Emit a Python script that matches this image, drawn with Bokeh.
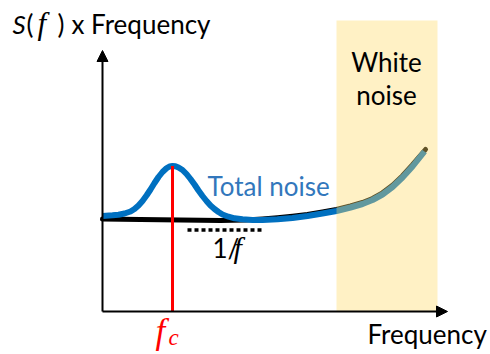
from bokeh.plotting import figure
from bokeh.models import Range1d, Label, Arrow, NormalHead, BoxAnnotation
from bokeh.embed import file_html
from bokeh.resources import INLINE

# Schematic noise spectrum, arbitrary units (origin at the axes corner)
total_x = [0, 10, 16, 22, 28, 32, 36, 40, 44, 48, 52, 56, 60, 64, 67, 70, 73, 76, 80, 84,
           88, 92, 96, 100, 104, 108, 112, 116, 120, 126, 132, 140, 150, 160, 175, 190,
           205, 220, 234, 248, 260, 270, 280, 290, 300, 310, 322]
total_y = [95.5, 96.2, 96.8, 98, 100, 102.5, 106, 110.5, 116, 122, 128.5, 134.5, 139.5,
           143.2, 145, 145.5, 145.2, 144, 141.5, 137.5, 132.5, 127, 121, 115.5, 110.5,
           106, 102.5, 99.5, 97, 94.8, 93.2, 92.2, 91.6, 91.5, 92.2, 93.6, 95.5, 98,
           100.5, 104, 107.5, 111.5, 117, 124.5, 134, 145, 160]

flicker_x = [0, 38, 78, 118, 143, 160, 175, 190, 205, 220, 234, 248, 260, 270, 280, 290,
             300, 310, 323]
flicker_y = [92.5, 92, 91.5, 91, 91.5, 92.5, 93.7, 95.2, 97, 99.5, 102, 105.5, 109, 113,
             118.7, 126.3, 135.8, 146.8, 162]

fc = 70                      # corner / peak frequency
white_band = (234, 335)      # white-noise dominated region
white_top = 291
x_axis_len = 345
y_axis_len = 261
dots_x = (85, 159)
dots_y = 81.5

SANS = "Lato"
SERIF = "Liberation Serif"
BLUE = "#0070C0"
TEXT_DY = 10                 # baseline correction for the labels

p = figure(width=490, height=354, output_backend="svg", toolbar_location=None,
           x_range=Range1d(-102, 388), y_range=Range1d(-43, 311),
           x_axis_location=None, y_axis_location=None, min_border=0)
p.xgrid.visible = False
p.ygrid.visible = False
p.outline_line_color = None
p.background_fill_color = "white"

# 1/f component and the total noise on top of it
p.line(flicker_x, flicker_y, line_color="black", line_width=5, line_cap="round", line_join="round")
p.line(total_x, total_y, line_color=BLUE, line_width=6, line_cap="butt", line_join="round")

# corner frequency marker, up to the peak of the total noise
peak = total_y[total_x.index(fc)]
p.segment(x0=[fc], y0=[0], x1=[fc], y1=[peak], line_color="#FF0000", line_width=3)

# dotted 1/f guide
p.segment(x0=[dots_x[0]], y0=[dots_y], x1=[dots_x[1]], y1=[dots_y], line_color="black",
          line_width=3.5, line_dash="4 3", line_cap="butt")

# white-noise band, translucent over the curve
p.add_layout(BoxAnnotation(left=white_band[0], right=white_band[1], bottom=0, top=white_top,
                           fill_color="#FFD966", fill_alpha=0.38, line_color=None))

# axes with arrow heads
p.add_layout(Arrow(end=NormalHead(size=11, fill_color="black", line_color="black"),
                   x_start=0, y_start=0, x_end=x_axis_len, y_end=0, line_width=2))
p.add_layout(Arrow(end=NormalHead(size=11, fill_color="black", line_color="black"),
                   x_start=0, y_start=0, x_end=0, y_end=y_axis_len, line_width=2))

def label(x, y, text, font=SANS, size=26, color="black", style="normal", align="left"):
    p.add_layout(Label(x=x, y=y + TEXT_DY, text=text, text_font=font,
                       text_font_size=f"{size}px", text_color=color,
                       text_font_style=style, text_align=align,
                       text_baseline="alphabetic"))

# y-axis title: S(f) x Frequency
label(-90, 278, "S", style="italic")
label(-76, 278, "(")
label(-65, 278, "f", font=SERIF, size=31, style="italic")
label(-45, 278, ")")
label(-31, 278, "x Frequency")

# x-axis title
label(265, -32, "Frequency")

# band and curve annotations
label(284, 240, "White", align="center")
label(284, 207, "noise", align="center")
label(105, 116, "Total noise", color="#3277BC")
label(110, 54, "1/")
label(131, 54, "f", font=SERIF, size=30, style="italic")

# corner-frequency tick label
label(53, -30, "f", font=SERIF, size=35, color="#FF0000", style="italic")
label(66, -36, "c", font=SERIF, size=23, color="#FF0000", style="italic")

html = file_html(p, INLINE)
open("out.html", "w").write(html)
